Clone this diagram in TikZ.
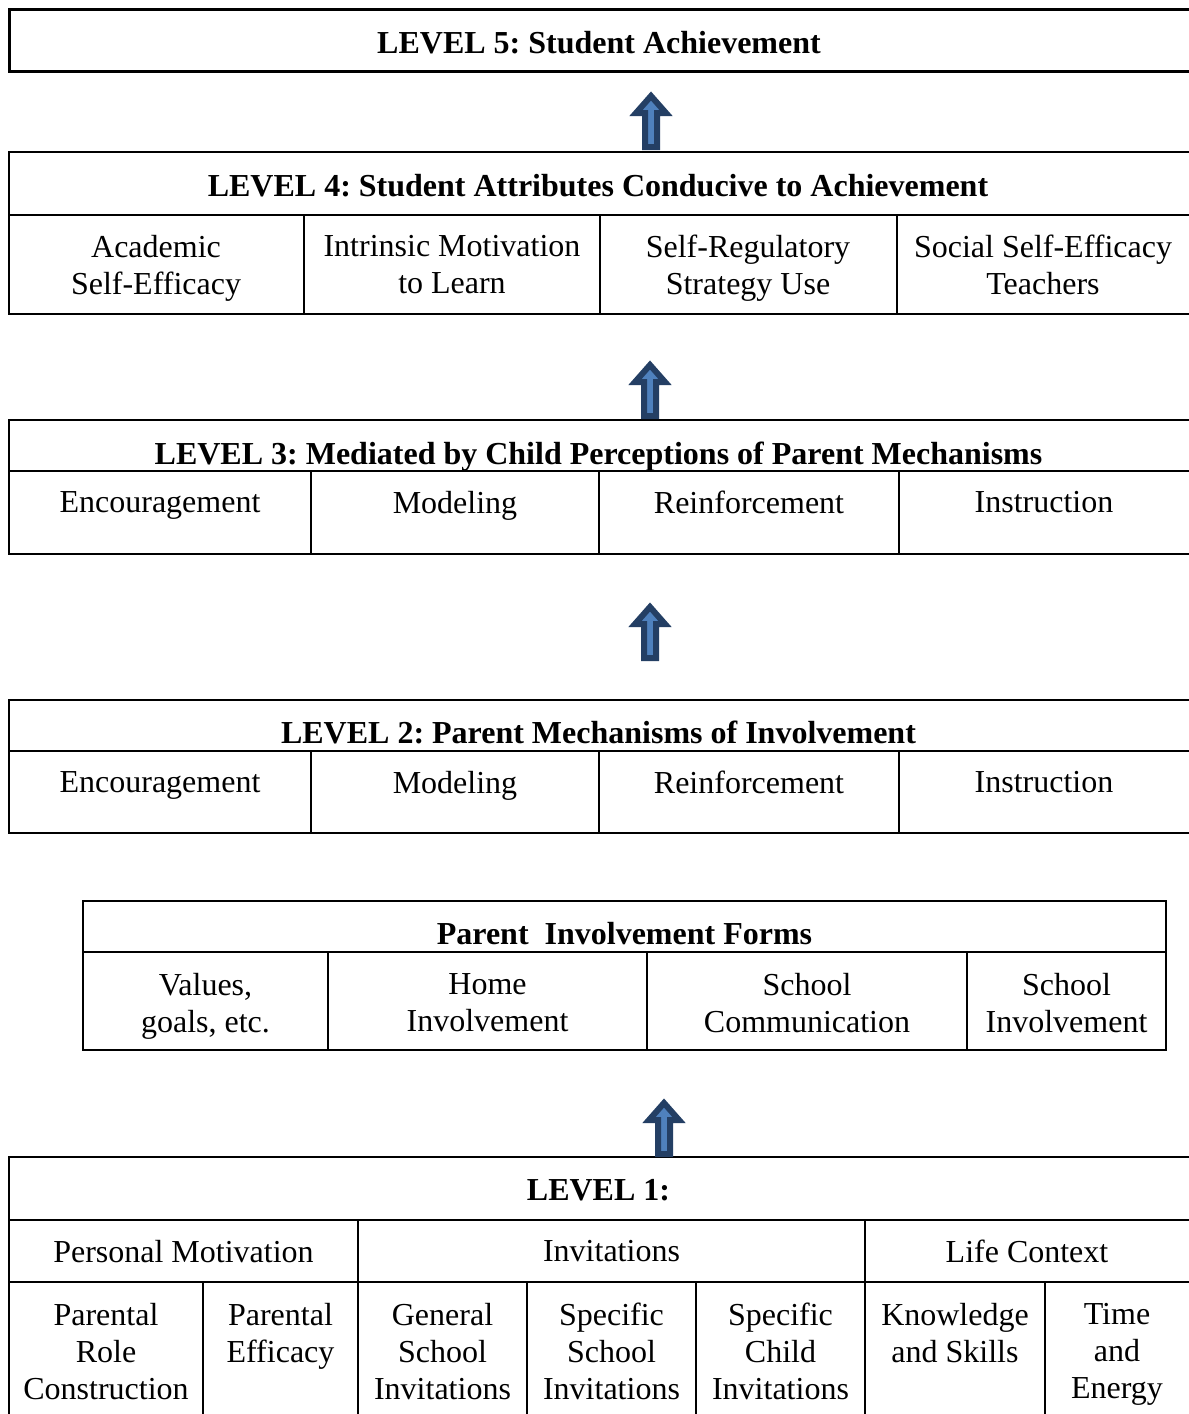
\documentclass[tikz,border=0pt]{standalone}
\usepackage{fontspec}
\setmainfont{Liberation Serif}
\definecolor{arrowdark}{HTML}{243F64}
\definecolor{arrowfill}{HTML}{4F81BD}
\frenchspacing
\begin{document}
\begin{tikzpicture}[x=1pt,y=-1pt,
  frame/.style={draw=black,line width=2.2pt},
  thickframe/.style={draw=black,line width=3pt},
  txt/.style={font=\fontsize{32}{37}\selectfont\frenchspacing, align=center, inner sep=0pt, anchor=north},
  hdr/.style={txt, font=\fontsize{32}{37}\selectfont\bfseries\frenchspacing},
  arr/.style={draw=arrowdark, fill=arrowfill, line width=6pt, line join=miter},
  uparrow/.pic={\draw[arr] (-6,-3) -- (-6,-37) -- (-15,-37) -- (0,-54) -- (15,-37) -- (6,-37) -- (6,-3) -- cycle;}]
\useasboundingbox (0,0) rectangle (1189,1414);
\fill[white] (0,0) rectangle (1189,1414);
\begin{scope}
\clip (0,0) rectangle (1189,1414);
% LEVEL 5
\draw[thickframe] (9,9) rectangle (1195,71);
\node[hdr] (l5) at (599,31) {LEVEL 5: Student Achievement};
% LEVEL 4
\draw[frame] (9,152) rectangle (1195,314);
\draw[frame] (9,215) -- (1195,215);
\foreach \x in {304,600,897} \draw[frame] (\x,215) -- (\x,314);
\node[hdr] (l4) at (598,174) {LEVEL 4: Student Attributes Conducive to Achievement};
\node[txt] (l4a) at (156,235) {Academic\\Self-Efficacy};
\node[txt] (l4b) at (452,235) {Intrinsic Motivation\\to Learn};
\node[txt] (l4c) at (748,235) {Self-Regulatory\\Strategy Use};
\node[txt] (l4d) at (1043,235) {Social Self-Efficacy\\Teachers};
% LEVEL 3
\draw[frame] (9,420) rectangle (1195,554);
\draw[frame] (9,471) -- (1195,471);
\foreach \x in {311,599,899} \draw[frame] (\x,471) -- (\x,554);
\node[hdr] (l3) at (598.5,442) {LEVEL 3: Mediated by Child Perceptions of Parent Mechanisms};
\node[txt] (l3a) at (160,491) {Encouragement};
\node[txt] (l3b) at (455,491) {Modeling};
\node[txt] (l3c) at (749,491) {Reinforcement};
\node[txt] (l3d) at (1044,491) {Instruction};
% LEVEL 2
\draw[frame] (9,700) rectangle (1195,833);
\draw[frame] (9,751) -- (1195,751);
\foreach \x in {311,599,899} \draw[frame] (\x,751) -- (\x,833);
\node[hdr] (l2) at (598.5,721) {LEVEL 2: Parent Mechanisms of Involvement};
\node[txt] (l2a) at (160,771) {Encouragement};
\node[txt] (l2b) at (455,771) {Modeling};
\node[txt] (l2c) at (749,771) {Reinforcement};
\node[txt] (l2d) at (1044,771) {Instruction};
% Parent Involvement Forms
\draw[frame] (83,901) rectangle (1166,1050);
\draw[frame] (83,952) -- (1166,952);
\foreach \x in {328,647,967} \draw[frame] (\x,952) -- (\x,1050);
\node[hdr] (pif) at (624.5,922) {Parent\ \ Involvement Forms};
\node[txt] (pifa) at (205.5,973) {Values,\\goals, etc.};
\node[txt] (pifb) at (487.5,973) {Home\\Involvement};
\node[txt] (pifc) at (807,973) {School\\Communication};
\node[txt] (pifd) at (1066.5,973) {School\\Involvement};
% LEVEL 1
\draw[frame] (9,1420) -- (9,1157) -- (1195,1157);
\draw[frame] (9,1220) -- (1195,1220);
\draw[frame] (9,1282) -- (1195,1282);
\foreach \x in {358,865} \draw[frame] (\x,1220) -- (\x,1420);
\foreach \x in {203,527,696,1045} \draw[frame] (\x,1282) -- (\x,1420);
\node[hdr] (l1) at (598.5,1179) {LEVEL 1:};
\node[txt] (pm) at (183.5,1240) {Personal Motivation};
\node[txt] (inv) at (611.5,1240) {Invitations};
\node[txt] (lc) at (1027,1240) {Life Context};
\node[txt] (c1) at (106,1303) {Parental\\Role\\Construction};
\node[txt] (c2) at (280.5,1303) {Parental\\Efficacy};
\node[txt] (c3) at (442.5,1303) {General\\School\\Invitations};
\node[txt] (c4) at (611.5,1303) {Specific\\School\\Invitations};
\node[txt] (c5) at (780.5,1303) {Specific\\Child\\Invitations};
\node[txt] (c6) at (955,1303) {Knowledge\\and Skills};
\node[txt] (c7) at (1117,1303) {Time\\and\\Energy};
\end{scope}
% arrows
\coordinate (a1) at (651,150);
\coordinate (a2) at (650,419);
\coordinate (a3) at (650,661);
\coordinate (a4) at (664,1157);
\pic at (a1) {uparrow};
\pic at (a2) {uparrow};
\pic at (a3) {uparrow};
\pic at (a4) {uparrow};
\end{tikzpicture}
\end{document}
